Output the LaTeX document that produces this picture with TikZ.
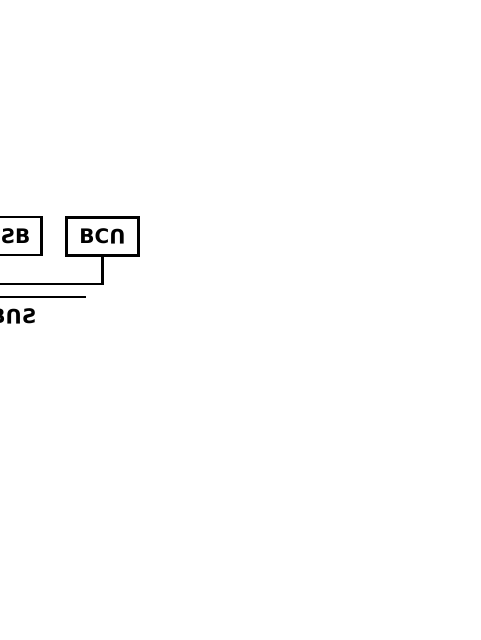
\documentclass[tikz,border=0pt]{standalone}
\usepackage{fontspec}
\setmainfont{DejaVu Sans}
\usetikzlibrary{positioning}

\begin{document}
\begin{tikzpicture}[x=1pt,y=1pt,
    unitbox/.style={draw,line width=2.5pt,minimum height=38pt,font=\fontsize{20}{24}\selectfont\bfseries},
    wire/.style={line width=2.5pt},
    buslabel/.style={inner sep=0pt,font=\fontsize{20}{24}\selectfont\bfseries}]
      \useasboundingbox (0,0) rectangle (480,-640);
      \node[unitbox,minimum width=72pt] (bcu) at (102.5,-236.5) {BC\rotatebox[origin=c]{180}{U}};
      \node[unitbox,anchor=east,text width=60pt,align=right,inner xsep=11pt] (usb) at (42.7,-235.8) {\reflectbox{S}B};
      \coordinate (busleft) at (0,-284);
      \draw[wire] (bcu.south) |- (busleft);
      \coordinate (busa) at (0,-297);
      \coordinate (busb) at (86,-297);
      \draw[wire] (busa) -- (busb);
      \node[buslabel,anchor=north east] (bus) at (36.5,-308.5) {B\rotatebox[origin=c]{180}{U}\reflectbox{S}};
    \end{tikzpicture}
\end{document}
